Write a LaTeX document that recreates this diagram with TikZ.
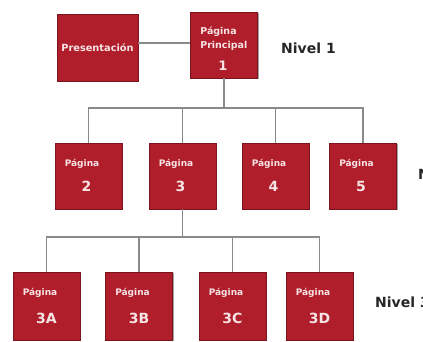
\documentclass[tikz,border=0pt]{standalone}
\usepackage{fontspec}
\setmainfont{DejaVu Sans}
\usetikzlibrary{calc,shadows}
\definecolor{boxred}{HTML}{B01E2C}
\definecolor{boxedge}{HTML}{7C1420}
\definecolor{boxtext}{HTML}{F7E4E4}
\definecolor{linkgray}{HTML}{8A8A8A}
\begin{document}
\begin{tikzpicture}[x=1pt,y=-1pt,
  pagebox/.style={rectangle, fill=boxred, draw=boxedge, line width=0.8pt,
    inner sep=0pt, minimum width=67pt, minimum height=66pt,
    drop shadow={shadow xshift=1.2pt, shadow yshift=-1.2pt, fill=black!70, opacity=0.5}},
  boxlabel/.style={text=boxtext, font=\bfseries, inner sep=0pt},
  smalltag/.style={boxlabel, font=\bfseries\fontsize{9}{11}\selectfont, anchor=west},
  numtag/.style={boxlabel, font=\bfseries\fontsize{14}{16}\selectfont},
  leveltag/.style={font=\bfseries\fontsize{14}{16}\selectfont, text=black!85, anchor=west, inner sep=0pt},
  link/.style={draw=linkgray, line width=1.1pt}]
\useasboundingbox (0,0) rectangle (423,341);
\clip (0,0) rectangle (423,341);
\fill[white] (0,0) rectangle (423,341);

% level 1
\node[pagebox, minimum width=81pt, minimum height=67pt] (pres) at (97.5,47.5) {};
\node[boxlabel, font=\bfseries\fontsize{9.8}{11}\selectfont] (prest) at (pres.center) {Presentación};
\node[pagebox] (pp) at (224,45) {};
\node[smalltag, font=\bfseries\fontsize{9.5}{11}\selectfont] (ppa) at ($(pp.north west)+(10,20)$) {Página};
\node[smalltag, font=\bfseries\fontsize{9.5}{11}\selectfont] (ppb) at ($(pp.north west)+(10,34)$) {Principal};
\node[numtag, font=\bfseries\fontsize{13}{15}\selectfont] (ppn) at ($(pp.north)+(-1,54)$) {1};
\node[leveltag] (niv1) at (281,48) {Nivel 1};

% level 2
\node[pagebox] (p2) at (88.5,176) {};
\node[pagebox] (p3) at (182.5,176) {};
\node[pagebox] (p4) at (275.5,176) {};
\node[pagebox] (p5) at (363,176) {};
\foreach \n in {2,3,4,5}{
  \node[smalltag] (p\n a) at ($(p\n.north west)+(10,21)$) {Página};
  \node[numtag] (p\n n) at ($(p\n.north)+(-2,44)$) {\n};
}
\node[leveltag] (niv2) at (418,174) {Nivel 2};

% level 3
\node[pagebox, minimum height=68pt] (q1) at (46.5,306) {};
\node[pagebox, minimum height=68pt] (q2) at (139,306) {};
\node[pagebox, minimum height=68pt] (q3) at (232.5,306) {};
\node[pagebox, minimum height=68pt] (q4) at (319.5,306) {};
\foreach \n/\t in {1/3A,2/3B,3/3C,4/3D}{
  \node[smalltag] (q\n a) at ($(q\n.north west)+(10,21)$) {Página};
  \node[numtag] (q\n n) at ($(q\n.north)+(0,47)$) {\t};
}
\node[leveltag] (niv3) at (375,302) {Nivel 3};

% connectors
\coordinate (bus1) at (0,108);
\coordinate (bus2) at (0,237);
\draw[link] (pres.east |- 0,43) -- (pp.west |- 0,43);
\draw[link] (pp.south) -- (pp.south |- bus1);
\draw[link] (p2.north) -- (p2.north |- bus1) -- (p5.north |- bus1) -- (p5.north);
\draw[link] (p3.north) -- (p3.north |- bus1);
\draw[link] (p4.north) -- (p4.north |- bus1);
\draw[link] (p3.south) -- (p3.south |- bus2);
\draw[link] (q1.north) -- (q1.north |- bus2) -- (q4.north |- bus2) -- (q4.north);
\draw[link] (q2.north) -- (q2.north |- bus2);
\draw[link] (q3.north) -- (q3.north |- bus2);
\end{tikzpicture}
\end{document}
